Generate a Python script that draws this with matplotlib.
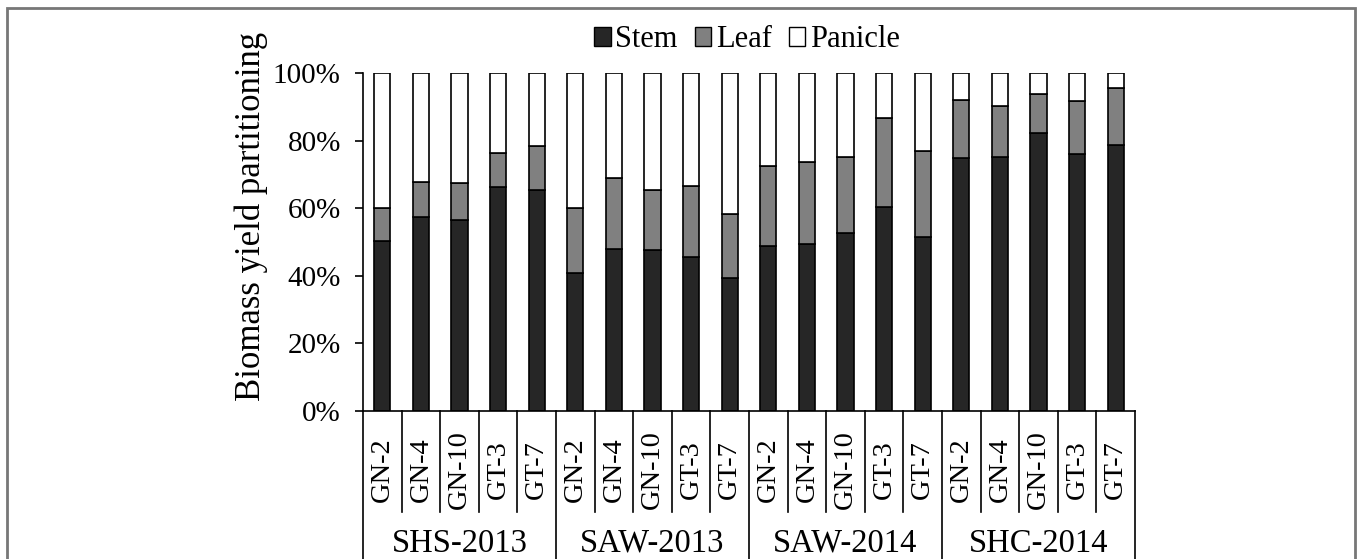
import numpy as np
import matplotlib.pyplot as plt
from matplotlib.patches import Patch, Rectangle
from matplotlib.ticker import PercentFormatter
import matplotlib.transforms as mtransforms

plt.rcParams['font.family'] = ['Liberation Serif', 'DejaVu Serif']

groups = ['SHS-2013', 'SAW-2013', 'SAW-2014', 'SHC-2014']
genotypes = ['GN-2', 'GN-4', 'GN-10', 'GT-3', 'GT-7']

# cumulative tops (%), stem then stem+leaf
stem = [50.3, 57.5, 56.4, 66.2, 65.3,
        40.9, 48.0, 47.6, 45.6, 39.4,
        48.8, 49.4, 52.7, 60.4, 51.4,
        74.9, 75.1, 82.3, 76.0, 78.6]
stem_leaf = [60.0, 67.7, 67.6, 76.3, 78.3,
             60.1, 69.0, 65.5, 66.6, 58.2,
             72.5, 73.6, 75.1, 86.8, 77.0,
             92.0, 90.3, 93.7, 91.6, 95.5]

stem = np.array(stem)
leaf = np.array(stem_leaf) - stem
panicle = 100 - np.array(stem_leaf)

n = len(stem)
x = np.arange(n)
labels = genotypes * len(groups)

fig = plt.figure(figsize=(13.6, 5.59), dpi=100)
ax = fig.add_axes([363 / 1360, 1 - 411 / 559, 772 / 1360, 338 / 559])

bw = 0.42
ax.bar(x, stem, bw, color='#262626', edgecolor='black', linewidth=1.2, label='Stem')
ax.bar(x, leaf, bw, bottom=stem, color='#808080', edgecolor='black', linewidth=1.2, label='Leaf')
ax.bar(x, panicle, bw, bottom=stem + leaf, color='white', edgecolor='black', linewidth=1.2, label='Panicle')

ax.set_xlim(-0.5, n - 0.5)
ax.set_ylim(0, 100)
ax.set_yticks(np.arange(0, 101, 20))
ax.yaxis.set_major_formatter(PercentFormatter(decimals=0))
ax.tick_params(axis='y', labelsize=21, length=6, width=1.2, direction='out', pad=10)
ax.set_xticks([])
for s in ['top', 'right']:
    ax.spines[s].set_visible(False)
ax.spines['left'].set_linewidth(1.2)
ax.spines['bottom'].set_linewidth(1.2)

ax.set_ylabel('Biomass yield partitioning', fontsize=25)
ax.yaxis.set_label_coords(-0.123, 0.577)

# two-level category axis
trans = mtransforms.blended_transform_factory(ax.transData, ax.transAxes)
for i in range(n + 1):
    xb = i - 0.5
    y_end = -0.45 if i % 5 == 0 else -0.299
    ax.plot([xb, xb], [0, y_end], color='black', lw=1.2, transform=trans, clip_on=False)
for i, lab in enumerate(labels):
    ax.text(i, -0.172, lab, rotation=90, ha='center', va='center', fontsize=20.5, transform=trans)
for g, name in enumerate(groups):
    ax.text(g * 5 + 2, -0.392, name, ha='center', va='center', fontsize=23.5, transform=trans)

handles = [Patch(facecolor='#262626', edgecolor='black', label='Stem'),
           Patch(facecolor='#808080', edgecolor='black', label='Leaf'),
           Patch(facecolor='white', edgecolor='black', label='Panicle')]
fig.legend(handles=handles, loc='center', bbox_to_anchor=(747 / 1360, 1 - 40 / 559), ncol=3,
           frameon=False, fontsize=22, handlelength=0.55, handleheight=0.55,
           handletextpad=0.15, columnspacing=0.55)

fig.patches.append(Rectangle((7 / 1360, -0.05), 1348 / 1360, 1 - 8 / 559 + 0.05, fill=False,
                             edgecolor='#777777', linewidth=2, transform=fig.transFigure,
                             clip_on=False))

fig.savefig('out.png', dpi=100)
